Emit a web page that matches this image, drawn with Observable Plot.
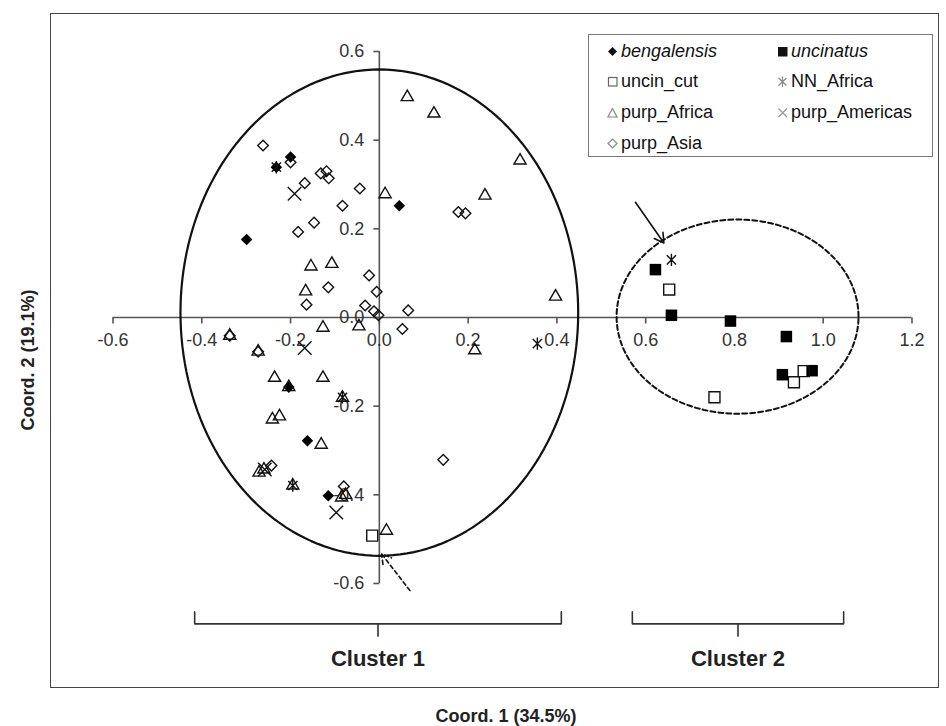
<!DOCTYPE html>
<html>
<head>
<meta charset="utf-8">
<script src="https://cdn.jsdelivr.net/npm/d3@7"></script>
<script src="https://cdn.jsdelivr.net/npm/@observablehq/plot@0.6"></script>
<style>
  body { margin: 0; background: #fff; font-family: Arial, "Liberation Sans", sans-serif; }
  #wrap { position: relative; width: 946px; height: 726px; overflow: hidden; }
  #chart { position: absolute; left: 0; top: 0; }
  #frame { position: absolute; left: 50px; top: 13px; width: 889px; height: 675px; border: 1.5px solid #444; box-sizing: border-box; pointer-events: none; }
  .title { position: absolute; font-weight: bold; font-size: 18px; color: #222; white-space: nowrap; }
  #ytitle { left: 28px; top: 360px; transform: translate(-50%, -50%) rotate(-90deg); }
  #xtitle { left: 506px; top: 716px; transform: translate(-50%, -50%); }
  #legend { position: absolute; left: 588px; top: 34px; width: 345px; height: 123px; border: 1.5px solid #777; box-sizing: border-box; background: #fff; }
  .item { position: absolute; height: 26px; display: flex; align-items: center; font-size: 18px; color: #111; transform: translateY(-50%); white-space: nowrap; }
  .item svg { margin-right: 3px; }
  .it { font-style: italic; }
</style>
</head>
<body>
<div id="wrap">
  <div id="chart"></div>
  <div id="frame"></div>
  <div id="legend"></div>
  <div class="title" id="ytitle">Coord. 2 (19.1%)</div>
  <div class="title" id="xtitle">Coord. 1 (34.5%)</div>
</div>
<script>
// ---------- data ----------
const xTicks = [-0.6, -0.4, -0.2, 0.0, 0.2, 0.4, 0.6, 0.8, 1.0, 1.2];
const yTicks = [-0.6, -0.4, -0.2, 0.0, 0.2, 0.4, 0.6];

const bengalensisX = [-0.200, -0.232, 0.045, -0.299, -0.204, -0.162, -0.115];
const bengalensisY = [0.362, 0.339, 0.252, 0.176, -0.157, -0.278, -0.402];

const uncinatusX = [0.622, 0.658, 0.791, 0.917, 0.908, 0.975];
const uncinatusY = [0.108, 0.005, -0.008, -0.043, -0.129, -0.120];

const uncinCutX = [0.653, 0.934, 0.956, 0.755, -0.016];
const uncinCutY = [0.063, -0.146, -0.121, -0.180, -0.492];

const nnAfricaX = [-0.232, 0.356, -0.083, -0.195, 0.658];
const nnAfricaY = [0.339, -0.059, -0.180, -0.379, 0.130];

const purpAfricaX = [0.063, 0.123, 0.317, 0.013, 0.238, 0.397, -0.154, -0.107, -0.166, -0.046,
  0.215, -0.127, -0.337, -0.273, -0.236, -0.127, -0.204, -0.083, -0.241, -0.225,
  -0.131, -0.271, -0.260, -0.195, -0.085, -0.076, 0.016];
const purpAfricaY = [0.497, 0.460, 0.354, 0.278, 0.275, 0.047, 0.115, 0.121, 0.059, -0.020,
  -0.074, -0.023, -0.041, -0.077, -0.136, -0.136, -0.157, -0.181, -0.230, -0.223,
  -0.287, -0.350, -0.343, -0.379, -0.406, -0.400, -0.481];

const purpAmericasX = [-0.191, -0.168, -0.097, -0.258];
const purpAmericasY = [0.279, -0.069, -0.440, -0.343];

const purpAsiaX = [-0.262, -0.200, -0.168, -0.132, -0.119, -0.114, -0.044, -0.083, -0.147, -0.183,
  -0.023, -0.115, -0.006, -0.164, -0.032, -0.012, -0.002, 0.065, 0.178, 0.194,
  0.052, 0.144, -0.337, -0.273, -0.243, -0.080];
const purpAsiaY = [0.388, 0.350, 0.303, 0.325, 0.330, 0.314, 0.291, 0.252, 0.214, 0.193,
  0.095, 0.068, 0.058, 0.029, 0.027, 0.014, 0.005, 0.016, 0.238, 0.235,
  -0.026, -0.321, -0.041, -0.077, -0.334, -0.381];

// cluster ellipses (center, radii in data units)
const ellipseCx = [0.0, 0.807];
const ellipseCy = [0.011, 0.002];
const ellipseRx = [0.448, 0.2725];
const ellipseRy = [0.5485, 0.219];

// cluster brackets
const clusterNames = ["Cluster 1", "Cluster 2"];
const clusterStart = [-0.416, 0.570];
const clusterEnd = [0.410, 1.046];

// arrows (solid, dashed)
const arrowX1 = [0.577, 0.069];
const arrowY1 = [0.260, -0.616];
const arrowX2 = [0.641, 0.005];
const arrowY2 = [0.168, -0.533];

const legendNames = ["bengalensis", "uncinatus", "uncin_cut", "NN_Africa", "purp_Africa", "purp_Americas", "purp_Asia"];

// ---------- helpers ----------
const pts = (xs, ys) => xs.map((x, i) => ({x, y: ys[i]}));
const ellipse = (k) => d3.range(0, 361, 2).map(a => ({
  x: ellipseCx[k] + ellipseRx[k] * Math.cos(a * Math.PI / 180),
  y: ellipseCy[k] + ellipseRy[k] * Math.sin(a * Math.PI / 180)
}));
const asterisk = {draw(c) { const d = 4.6, r = 6.2; c.moveTo(-d, -d); c.lineTo(d, d); c.moveTo(-d, d); c.lineTo(d, -d); c.moveTo(0, -r); c.lineTo(0, r); }};
const tickDown = {draw(c) { c.moveTo(0, 0); c.lineTo(0, 6); }};
const tickLeft = {draw(c) { c.moveTo(0, 0); c.lineTo(-6, 0); }};

const yBracketTop = -0.664, yBracketLine = -0.691, yBracketTick = -0.72, yClusterLabel = -0.77;
const bracketPts = clusterNames.flatMap((n, i) => [
  {x: clusterStart[i], y: yBracketTop, z: n},
  {x: clusterStart[i], y: yBracketLine, z: n},
  {x: clusterEnd[i], y: yBracketLine, z: n},
  {x: clusterEnd[i], y: yBracketTop, z: n}
]);
const mid = i => (clusterStart[i] + clusterEnd[i]) / 2;

const axisColor = "#555";
const ink = "#111";

const plot = Plot.plot({
  width: 946,
  height: 726,
  margin: 0,
  x: {domain: [-0.6, 1.2], range: [112.5, 911.5], axis: null},
  y: {domain: [-0.6, 0.6], range: [583, 51], axis: null},
  style: {fontFamily: 'Arial, "Liberation Sans", sans-serif', fontSize: "18px", color: "#222", background: "transparent", overflow: "visible"},
  marks: [
    // axes through origin
    Plot.ruleY([0], {x1: xTicks[0], x2: xTicks[xTicks.length - 1], stroke: axisColor, strokeWidth: 1.6}),
    Plot.ruleX([0], {y1: yTicks[0], y2: yTicks[yTicks.length - 1], stroke: axisColor, strokeWidth: 1.6}),
    Plot.dot(xTicks, {x: d => d, y: 0, symbol: tickDown, fill: "none", stroke: axisColor, strokeWidth: 1.6}),
    Plot.dot(yTicks, {x: 0, y: d => d, symbol: tickLeft, fill: "none", stroke: axisColor, strokeWidth: 1.6}),
    Plot.text(xTicks, {x: d => d, y: 0, dy: 23, text: d => d.toFixed(1), fill: "#333", fontSize: 18}),
    Plot.text(yTicks, {x: 0, y: d => d, dx: -15, textAnchor: "end", text: d => d.toFixed(1), fill: "#333", fontSize: 18}),

    // cluster ellipses
    Plot.line(ellipse(0), {x: "x", y: "y", stroke: ink, strokeWidth: 2.2}),
    Plot.line(ellipse(1), {x: "x", y: "y", stroke: ink, strokeWidth: 2, strokeDasharray: "5,3"}),

    // data points
    Plot.dot(pts(bengalensisX, bengalensisY), {x: "x", y: "y", symbol: "diamond2", r: 5.2, fill: "#000", stroke: "none"}),
    Plot.dot(pts(uncinatusX, uncinatusY), {x: "x", y: "y", symbol: "square", r: 6.5, fill: "#000", stroke: "none"}),
    Plot.dot(pts(uncinCutX, uncinCutY), {x: "x", y: "y", symbol: "square", r: 6.2, fill: "none", stroke: ink, strokeWidth: 1.4}),
    Plot.dot(pts(nnAfricaX, nnAfricaY), {x: "x", y: "y", symbol: asterisk, fill: "none", stroke: ink, strokeWidth: 1.4}),
    Plot.dot(pts(purpAfricaX, purpAfricaY), {x: "x", y: "y", symbol: "triangle2", r: 5.8, fill: "none", stroke: ink, strokeWidth: 1.4}),
    Plot.dot(pts(purpAmericasX, purpAmericasY), {x: "x", y: "y", symbol: "times", r: 6.2, fill: "none", stroke: ink, strokeWidth: 1.4}),
    Plot.dot(pts(purpAsiaX, purpAsiaY), {x: "x", y: "y", symbol: "diamond2", r: 4.8, fill: "none", stroke: ink, strokeWidth: 1.4}),

    // arrows
    Plot.arrow([0], {x1: i => arrowX1[i], y1: i => arrowY1[i], x2: i => arrowX2[i], y2: i => arrowY2[i], stroke: ink, strokeWidth: 1.6, headLength: 10}),
    Plot.arrow([1], {x1: i => arrowX1[i], y1: i => arrowY1[i], x2: i => arrowX2[i], y2: i => arrowY2[i], stroke: ink, strokeWidth: 1.6, headLength: 10, strokeDasharray: "4,3"}),

    // brackets and cluster labels
    Plot.line(bracketPts, {x: "x", y: "y", z: "z", stroke: "#333", strokeWidth: 1.6}),
    Plot.link([0, 1], {x1: mid, x2: mid, y1: yBracketLine, y2: yBracketTick, stroke: "#333", strokeWidth: 1.6}),
    Plot.text([0, 1], {x: mid, y: yClusterLabel, text: i => clusterNames[i], fontSize: 22, fontWeight: "bold", fill: "#222"})
  ]
});
document.getElementById("chart").appendChild(plot);

// ---------- legend ----------
const legendSym = {
  "bengalensis": '<polygon points="5.5,1 10,5.5 5.5,10 1,5.5" fill="#111"/>',
  "uncinatus": '<rect x="1" y="1" width="9.5" height="9.5" fill="#111"/>',
  "uncin_cut": '<rect x="1.5" y="1.5" width="8.5" height="8.5" fill="none" stroke="#666" stroke-width="1.2"/>',
  "NN_Africa": '<path d="M1.5,2 L9.5,9.5 M1.5,9.5 L9.5,2 M5.5,0.5 L5.5,11" stroke="#888" stroke-width="1.2" fill="none"/>',
  "purp_Africa": '<polygon points="5.5,1.5 10,10 1,10" fill="none" stroke="#888" stroke-width="1.2"/>',
  "purp_Americas": '<path d="M1.5,1.5 L10,10 M1.5,10 L10,1.5" stroke="#999" stroke-width="1.2" fill="none"/>',
  "purp_Asia": '<polygon points="5.5,1 10,5.5 5.5,10 1,5.5" fill="none" stroke="#888" stroke-width="1.2"/>'
};
const italicNames = new Set(["bengalensis", "uncinatus"]);
const legend = document.getElementById("legend");
const rowY = [16, 46, 77, 108];
legendNames.forEach((name, i) => {
  const row = Math.floor(i / 2), col = i % 2;
  const div = document.createElement("div");
  div.className = "item";
  div.style.left = (col === 0 ? 18 : 188) + "px";
  div.style.top = rowY[row] + "px";
  div.innerHTML = '<svg width="11" height="11" viewBox="0 0 11 11">' + legendSym[name] + '</svg><span class="' + (italicNames.has(name) ? "it" : "") + '">' + name + '</span>';
  legend.appendChild(div);
});
</script>
</body>
</html>
